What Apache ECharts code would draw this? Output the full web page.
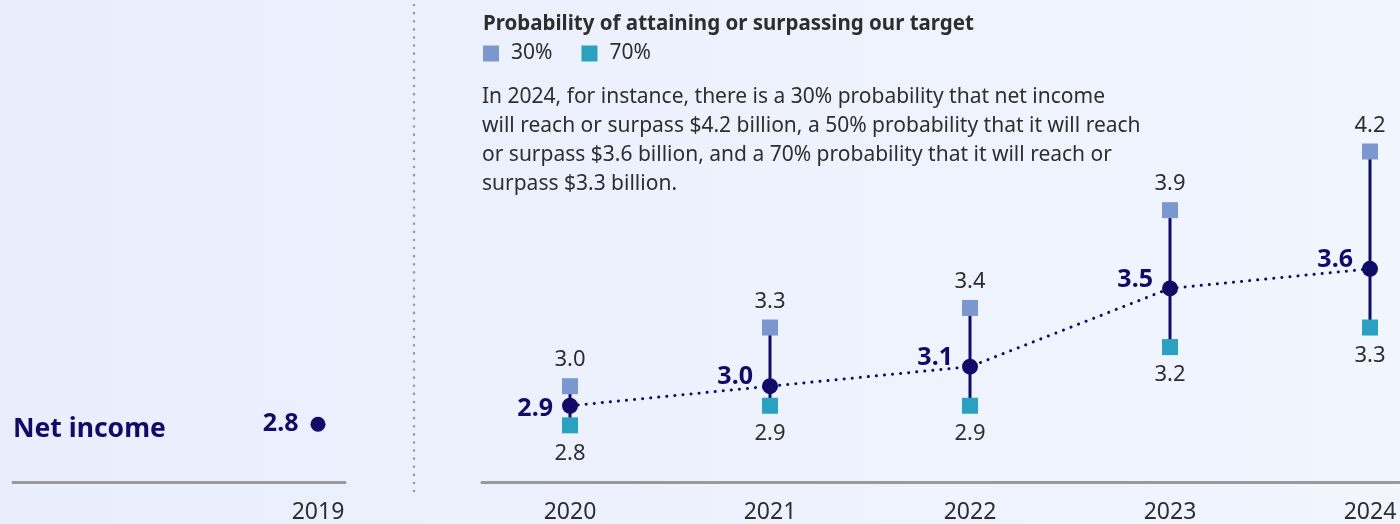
<!DOCTYPE html>
<html>
<head>
<meta charset="utf-8">
<script src="https://cdn.jsdelivr.net/npm/echarts@6/dist/echarts.min.js"></script>
<style>
html,body{margin:0;padding:0;}
#c{width:1400px;height:524px;}
</style>
</head>
<body>
<div id="c"></div>
<script>
const years = [2020, 2021, 2022, 2023, 2024];
const p50 = [2.9, 3.0, 3.1, 3.5, 3.6];
const p30 = [3.0, 3.3, 3.4, 3.9, 4.2];
const p70 = [2.8, 2.9, 2.9, 3.2, 3.3];
const baseYears = [2019];
const baseValues = [2.8];
const titleText = 'Probability of attaining or surpassing our target';
const noteText = 'In 2024, for instance, there is a 30% probability that net income\nwill reach or surpass $4.2 billion, a 50% probability that it will reach\nor surpass $3.6 billion, and a 70% probability that it will reach or\nsurpass $3.3 billion.';
const rowLabel = 'Net income';

const NAVY = '#110b68';
const C30 = '#7b97cf';
const C70 = '#2aa1c0';
const GRAY = '#2e2e2e';
const FONT = 'Noto Sans';

const chart = echarts.init(document.getElementById('c'));
const xAxisBase = {
  type: 'value',
  offset: -2,
  axisLine: { show: true, onZero: false, lineStyle: { color: '#9a9a9a', width: 3 } },
  axisTick: { show: false },
  splitLine: { show: false },
  axisLabel: { color: GRAY, fontFamily: FONT, fontSize: 23, margin: 19 }
};
const yAxisBase = { type: 'value', min: 2.5, max: 4.5, show: false };

chart.setOption({
  backgroundColor: {
    type: 'linear', x: 0, y: 0, x2: 1, y2: 0,
    colorStops: [{ offset: 0, color: '#e8eefc' }, { offset: 1, color: '#f1f5fe' }]
  },
  textStyle: { fontFamily: FONT },
  title: [
    { text: titleText, left: 478, top: 9, padding: 5,
      textStyle: { fontFamily: FONT, fontSize: 20.5, fontWeight: 'bold', color: GRAY } },
    { text: noteText, left: 477, top: 78, padding: 5,
      textStyle: { fontFamily: FONT, fontSize: 21, fontWeight: 'normal', color: GRAY, lineHeight: 29 } }
  ],
  legend: {
    left: 478, top: 38, icon: 'rect', itemWidth: 16, itemHeight: 16, itemGap: 29,
    data: ['30%', '70%'],
    itemStyle: { opacity: 1 },
    textStyle: { fontFamily: FONT, fontSize: 21, color: GRAY, padding: [0, 0, 0, 7] }
  },
  grid: [
    { left: 13, width: 332, top: 91, bottom: 37 },
    { left: 482, right: 0, top: 92.8, bottom: 36 }
  ],
  xAxis: [
    Object.assign({}, xAxisBase, { gridIndex: 0, min: 2017.475, max: 2019.135, offset: -1,
      axisLabel: Object.assign({}, xAxisBase.axisLabel, { customValues: baseYears, formatter: v => String(v) }) }),
    Object.assign({}, xAxisBase, { gridIndex: 1, min: 2019.56, max: 2024.15,
      axisLabel: Object.assign({}, xAxisBase.axisLabel, { customValues: years, formatter: v => String(v) }) })
  ],
  yAxis: [
    Object.assign({}, yAxisBase, { gridIndex: 0 }),
    Object.assign({}, yAxisBase, { gridIndex: 1 })
  ],
  graphic: [
    { type: 'line', shape: { x1: 414, y1: 5, x2: 414, y2: 492 },
      style: { stroke: '#9a9a9a', lineWidth: 2.5, lineDash: [0.1, 8], lineCap: 'round' } },
    { type: 'text', left: 13, top: 416,
      style: { text: rowLabel, fontFamily: FONT, fontSize: 26.5, fontWeight: 'bold', fill: NAVY } }
  ],
  series: [
    {
      type: 'scatter', xAxisIndex: 0, yAxisIndex: 0,
      data: baseYears.map((y, i) => [y, baseValues[i]]),
      symbol: 'circle', symbolSize: 15, itemStyle: { color: NAVY, opacity: 1 },
      label: { show: true, position: 'left', distance: 12, formatter: p => p.value[1].toFixed(1),
        fontFamily: FONT, fontSize: 25, fontWeight: 'bold', color: NAVY }
    },
    {
      type: 'custom', xAxisIndex: 1, yAxisIndex: 1, z: 1,
      data: years.map((y, i) => [y, p70[i], p30[i]]),
      renderItem: (params, api) => {
        const a = api.coord([api.value(0), api.value(1)]);
        const b = api.coord([api.value(0), api.value(2)]);
        return { type: 'line', shape: { x1: a[0], y1: a[1], x2: b[0], y2: b[1] },
          style: { stroke: NAVY, lineWidth: 3 } };
      }
    },
    {
      name: '30%', type: 'scatter', xAxisIndex: 1, yAxisIndex: 1, z: 3,
      data: years.map((y, i) => [y, p30[i]]),
      symbol: 'rect', symbolSize: 16, itemStyle: { color: C30, opacity: 1 },
      label: { show: true, position: 'top', distance: 7, formatter: p => p.value[1].toFixed(1),
        fontFamily: FONT, fontSize: 22, color: GRAY }
    },
    {
      name: '70%', type: 'scatter', xAxisIndex: 1, yAxisIndex: 1, z: 3,
      data: years.map((y, i) => [y, p70[i]]),
      symbol: 'rect', symbolSize: 16, itemStyle: { color: C70, opacity: 1 },
      label: { show: true, position: 'bottom', distance: 9, formatter: p => p.value[1].toFixed(1),
        fontFamily: FONT, fontSize: 22, color: GRAY }
    },
    {
      name: '50%', type: 'line', xAxisIndex: 1, yAxisIndex: 1, z: 4,
      data: years.map((y, i) => ({ value: [y, p50[i]],
        label: { offset: i === 0 ? [0, 3] : [0, -9] } })),
      symbol: 'circle', symbolSize: 16, itemStyle: { color: NAVY },
      lineStyle: { color: NAVY, width: 3, type: [0.1, 8], cap: 'round' },
      label: { show: true, position: 'left', distance: 9, formatter: p => p.value[1].toFixed(1),
        fontFamily: FONT, fontSize: 25, fontWeight: 'bold', color: NAVY }
    }
  ]
});
</script>
</body>
</html>
